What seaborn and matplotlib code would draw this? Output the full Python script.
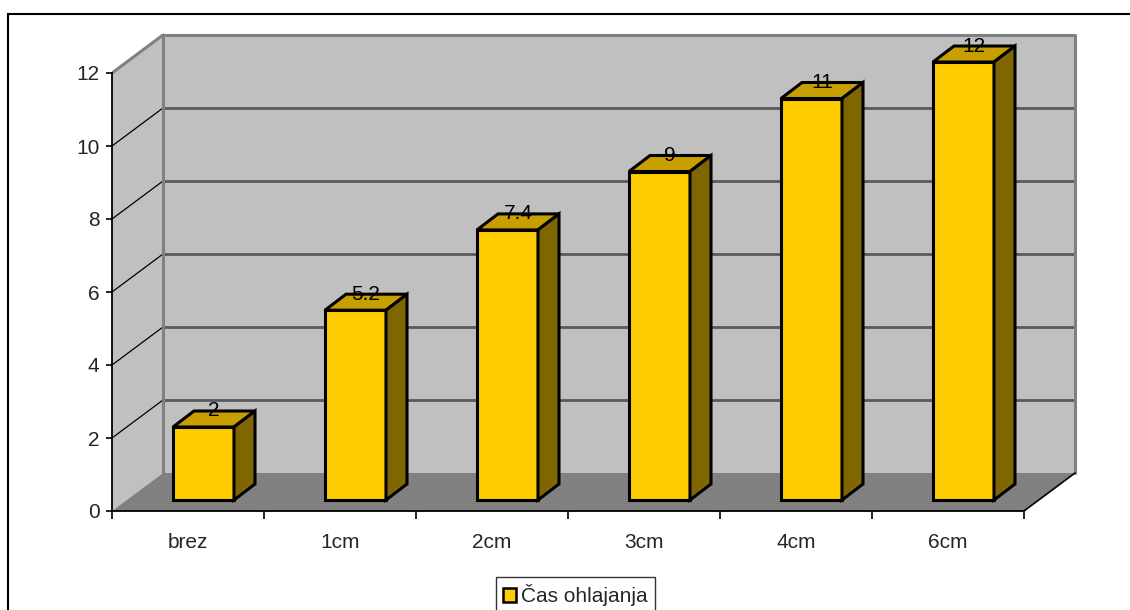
import numpy as np
import pandas as pd
import seaborn as sns
import matplotlib
matplotlib.use("Agg")
import matplotlib.pyplot as plt
from matplotlib.patches import Polygon, Rectangle, Patch
from matplotlib.transforms import Affine2D

# ---- data ----
categories = ["brez", "1cm", "2cm", "3cm", "4cm", "6cm"]
values = [2, 5.2, 7.4, 9, 11, 12]
value_labels = ["2", "5.2", "7.4", "9", "11", "12"]
yticks = [0, 2, 4, 6, 8, 10, 12]
series_name = "Čas ohlajanja"

# ---- styling ----
sns.set_style("white")
plt.rcParams["font.family"] = ["Liberation Sans", "DejaVu Sans"]
FS = 15
BAR_FRONT = "#FFCC00"
BAR_TOP = "#C79F00"
BAR_SIDE = "#806600"
WALL = "#C0C0C0"
FLOOR = "#808080"
GRID = "#5A5A5A"

W, H = 1130, 610
fig = plt.figure(figsize=(W / 100, H / 100), dpi=100)

px_x = 152.0   # pixels per category
px_y = 36.5    # pixels per unit
left_px, right_px, bot_px, top_px = 112, 1090, 511, 25
ax = fig.add_axes([left_px / W, 1 - bot_px / H, (right_px - left_px) / W, (bot_px - top_px) / H])

n = len(categories)
ymax = yticks[-1]
# 3D depth offsets (in data units)
wx, wy = 51 / px_x, 38 / px_y          # wall depth
bx, by = 15.5 / px_x, 11 / px_y        # bar front-face shift
dx, dy = 21 / px_x, 16 / px_y          # bar depth
bar_w = 61 / px_x

x0, x1 = -0.5, n - 0.5

# walls / floor
ax.add_patch(Polygon([(x0, 0), (x0 + wx, wy), (x0 + wx, ymax + wy), (x0, ymax)],
                     closed=True, facecolor=WALL, edgecolor="none", zorder=0.5))
ax.add_patch(Rectangle((x0 + wx, wy), (x1 - x0), ymax, facecolor=WALL, edgecolor="none", zorder=0.5))
ax.add_patch(Polygon([(x0, 0), (x0 + wx, wy), (x1 + wx, wy), (x1, 0)],
                     closed=True, facecolor=FLOOR, edgecolor="none", zorder=0.6))
# back wall gridlines
for t in yticks[1:-1]:
    ax.plot([x0 + wx, x1 + wx], [t + wy, t + wy], color=GRID, lw=2, zorder=0.7, solid_capstyle="butt")
    ax.plot([x0, x0 + wx], [t, t + wy], color="black", lw=0.9, zorder=0.7)
# back wall border
ax.plot([x0 + wx, x0 + wx, x1 + wx, x1 + wx], [wy, ymax + wy, ymax + wy, wy],
        color="#808080", lw=2.2, zorder=0.8)
ax.plot([x0, x0 + wx], [ymax, ymax + wy], color="#808080", lw=2.2, zorder=0.8)
ax.plot([x1, x1 + wx], [0, wy], color="black", lw=1.2, zorder=0.8)

# bars (front faces) via seaborn
df = pd.DataFrame({"cat": categories, "val": values})
sns.barplot(data=df, x="cat", y="val", order=categories, color=BAR_FRONT, saturation=1,
            width=bar_w, edgecolor="black", linewidth=2.2, ax=ax, zorder=3)

shift = Affine2D().translate(bx, by) + ax.transData
for p, lab in zip(ax.patches[-n:], value_labels):
    p.set_transform(shift)
    p.set_zorder(3)
    xl = p.get_x() + bx
    xr = xl + p.get_width()
    yb = p.get_y() + by
    yt = yb + p.get_height()
    ax.add_patch(Polygon([(xl, yt), (xl + dx, yt + dy), (xr + dx, yt + dy), (xr, yt)],
                         closed=True, facecolor=BAR_TOP, edgecolor="black", lw=2.2, zorder=3,
                         joinstyle="miter"))
    ax.add_patch(Polygon([(xr, yb), (xr + dx, yb + dy), (xr + dx, yt + dy), (xr, yt)],
                         closed=True, facecolor=BAR_SIDE, edgecolor="black", lw=2.2, zorder=3,
                         joinstyle="miter"))
    ax.text((xl + xr) / 2 + dx / 2, yt + dy, lab, ha="center", va="center",
            fontsize=FS, color="black", zorder=5)

# axes limits / spines / ticks
ax.set_xlim(x0, x0 + (right_px - left_px) / px_x)
ax.set_ylim(0, (bot_px - top_px) / px_y)
for s in ["top", "right"]:
    ax.spines[s].set_visible(False)
ax.spines["left"].set_bounds(0, ymax)
ax.spines["bottom"].set_bounds(x0, x1)
for s in ["left", "bottom"]:
    ax.spines[s].set_color("black")
    ax.spines[s].set_linewidth(1.3)
    ax.spines[s].set_zorder(0.9)
ax.set_yticks(yticks)
ax.set_yticklabels([str(t) for t in yticks], fontsize=FS)
ax.tick_params(axis="y", direction="out", length=4, width=1.2, pad=5, color="black", left=True)
ax.set_xticks(np.arange(n + 1) - 0.5)
ax.set_xticklabels([""] * (n + 1))
ax.set_xticks(np.arange(n), minor=True)
ax.set_xticklabels(categories, minor=True, fontsize=FS)
ax.tick_params(axis="x", which="major", direction="out", length=6, width=1.2, color="black", bottom=True)
ax.tick_params(axis="x", which="minor", length=0, pad=16)
ax.set_xlabel("")
ax.set_ylabel("")
ax.grid(False)
ax.patch.set_alpha(0)

# legend
leg = fig.legend(handles=[Patch(facecolor=BAR_FRONT, edgecolor="black", lw=1.8, label=series_name)],
                 loc="upper center", bbox_to_anchor=(575.5 / W, 1 - 577 / H), frameon=True,
                 fancybox=False, edgecolor="black", fontsize=FS, handlelength=0.6, handleheight=0.6,
                 handletextpad=0.25, borderpad=0.35, borderaxespad=0)
leg.get_frame().set_linewidth(1.0)

# chart-area border
fig.patches.append(Rectangle((8 / W, -0.1), 1.2, 1 - 14 / H + 0.1, transform=fig.transFigure,
                             fill=False, edgecolor="black", lw=1.5))

fig.savefig("out.png", dpi=100)
